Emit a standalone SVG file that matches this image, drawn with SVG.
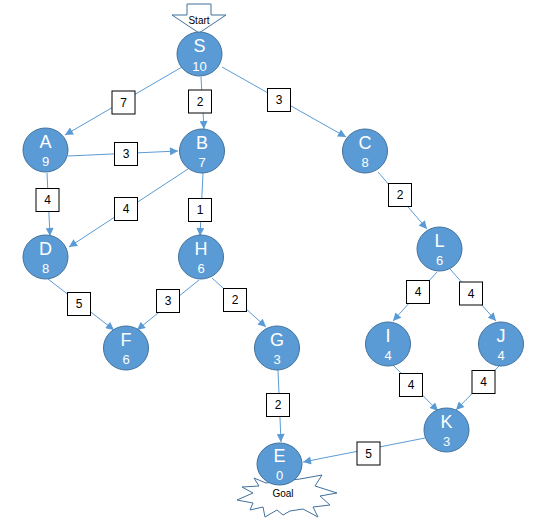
<svg xmlns="http://www.w3.org/2000/svg" width="533" height="530" viewBox="0 0 533 530">
<style>
.node ellipse{fill:#5B9BD5;stroke:#41719C;stroke-width:1}
.node text{fill:#fff;font-family:"Liberation Sans",Arial,sans-serif;text-anchor:middle}
.node .l{font-size:18px}
.node .n{font-size:13px}
.edge line{stroke:#5B9BD5;stroke-width:1;marker-end:url(#ah)}
.lbl rect{fill:#fff;stroke:#000;stroke-width:1}
.lbl text{font-family:"Liberation Sans",Arial,sans-serif;font-size:12px;text-anchor:middle;fill:#000}
.shape{fill:#fff;stroke:#41719C;stroke-width:1}
.stext{font-family:"Liberation Sans",Arial,sans-serif;font-size:10px;text-anchor:middle;fill:#000}
</style>
<defs>
<marker id="ah" viewBox="0 0 10 10" refX="10" refY="5" markerWidth="9" markerHeight="8" markerUnits="userSpaceOnUse" orient="auto">
<path d="M0,0 L10,5 L0,10 z" fill="#5B9BD5"/>
</marker>
</defs>
<rect width="533" height="530" fill="#fff"/>

<g id="start">
<polygon class="shape" points="187,4 211,4 211,15 226,15 199,33 172,15 187,15"/>
<text class="stext" x="199" y="24">Start</text>
</g>

<g id="goal">
<polygon class="shape" points="237,500 253,493 242,487 259,486 254,478 266,483 300,479 322,475 315,486 337,493 320,496 330,505 313,507 318,517 303,509 290,511 283,515 277,510 265,517 263,507 250,510 253,503"/>
<text class="stext" x="283" y="497">Goal</text>
</g>

<g id="edges" class="edge">
<line x1="182" y1="67" x2="65" y2="135"/>
<line x1="201" y1="77" x2="204" y2="129"/>
<line x1="222" y1="67" x2="346" y2="137"/>
<line x1="68" y1="156" x2="178" y2="151"/>
<line x1="47" y1="173" x2="50" y2="236"/>
<line x1="188" y1="169" x2="69" y2="247"/>
<line x1="203" y1="173" x2="200" y2="236"/>
<line x1="378" y1="172" x2="427" y2="229"/>
<line x1="48" y1="279" x2="114" y2="330"/>
<line x1="199" y1="280" x2="137" y2="330"/>
<line x1="212" y1="278" x2="266" y2="327"/>
<line x1="278" y1="370" x2="281" y2="442"/>
<line x1="437" y1="272" x2="393" y2="321"/>
<line x1="450" y1="269" x2="496" y2="321"/>
<line x1="393" y1="365" x2="438" y2="411"/>
<line x1="500" y1="365" x2="456" y2="410"/>
<line x1="425" y1="438" x2="303" y2="462"/>
</g>

<g id="labels" class="lbl">
<rect x="112" y="91" width="23" height="23"/><text x="123.5" y="106.5">7</text>
<rect x="188.5" y="90" width="23" height="23"/><text x="200" y="105.5">2</text>
<rect x="267.5" y="88.5" width="23" height="23"/><text x="279" y="104">3</text>
<rect x="114.5" y="142.5" width="23" height="23"/><text x="126" y="158">3</text>
<rect x="36" y="188.5" width="23" height="23"/><text x="47.5" y="204">4</text>
<rect x="114.5" y="197.5" width="23" height="23"/><text x="126" y="213">4</text>
<rect x="188.5" y="198.5" width="23" height="23"/><text x="200" y="214">1</text>
<rect x="388.5" y="183.5" width="23" height="23"/><text x="400" y="199">2</text>
<rect x="67.5" y="292.5" width="23" height="23"/><text x="79" y="308">5</text>
<rect x="156.5" y="289.5" width="23" height="23"/><text x="168" y="305">3</text>
<rect x="223.5" y="288.5" width="23" height="23"/><text x="235" y="304">2</text>
<rect x="406.5" y="280.5" width="23" height="23"/><text x="418" y="296">4</text>
<rect x="459.5" y="282" width="23" height="23"/><text x="471" y="297.5">4</text>
<rect x="399.5" y="373.5" width="23" height="23"/><text x="411" y="389">4</text>
<rect x="472" y="370.5" width="23" height="23"/><text x="483.5" y="386">4</text>
<rect x="357" y="442" width="23" height="23"/><text x="368.5" y="457.5">5</text>
<rect x="266.5" y="393.5" width="23" height="23"/><text x="278" y="409">2</text>
</g>

<g id="S" class="node"><ellipse cx="199.5" cy="54" rx="22.5" ry="22"/><text class="l" x="199.5" y="52">S</text><text class="n" x="199.5" y="71">10</text></g>
<g id="A" class="node"><ellipse cx="45.5" cy="150" rx="22.5" ry="22"/><text class="l" x="45.5" y="148">A</text><text class="n" x="45.5" y="166">9</text></g>
<g id="B" class="node"><ellipse cx="202" cy="151" rx="22.5" ry="22"/><text class="l" x="202" y="149">B</text><text class="n" x="202" y="167">7</text></g>
<g id="C" class="node"><ellipse cx="365" cy="151" rx="22.5" ry="22"/><text class="l" x="365" y="149">C</text><text class="n" x="365" y="167">8</text></g>
<g id="D" class="node"><ellipse cx="45.5" cy="257" rx="22.5" ry="22"/><text class="l" x="45.5" y="255">D</text><text class="n" x="45.5" y="273">8</text></g>
<g id="H" class="node"><ellipse cx="201" cy="257" rx="22.5" ry="22"/><text class="l" x="201" y="255">H</text><text class="n" x="201" y="273">6</text></g>
<g id="L" class="node"><ellipse cx="439.5" cy="249" rx="22.5" ry="22"/><text class="l" x="439.5" y="247">L</text><text class="n" x="439.5" y="265">6</text></g>
<g id="F" class="node"><ellipse cx="126" cy="348" rx="22.5" ry="22"/><text class="l" x="126" y="346">F</text><text class="n" x="126" y="364">6</text></g>
<g id="G" class="node"><ellipse cx="277" cy="348" rx="22.5" ry="22"/><text class="l" x="277" y="346">G</text><text class="n" x="277" y="364">3</text></g>
<g id="I" class="node"><ellipse cx="388" cy="344" rx="22.5" ry="22"/><text class="l" x="388" y="342">I</text><text class="n" x="388" y="360">4</text></g>
<g id="J" class="node"><ellipse cx="501" cy="344" rx="22.5" ry="22"/><text class="l" x="501" y="342">J</text><text class="n" x="501" y="360">4</text></g>
<g id="K" class="node"><ellipse cx="446.5" cy="430" rx="22.5" ry="22"/><text class="l" x="446.5" y="428">K</text><text class="n" x="446.5" y="446">3</text></g>
<g id="E" class="node"><ellipse cx="279.5" cy="464" rx="22.5" ry="21"/><text class="l" x="279.5" y="462">E</text><text class="n" x="279.5" y="480">0</text></g>
</svg>
